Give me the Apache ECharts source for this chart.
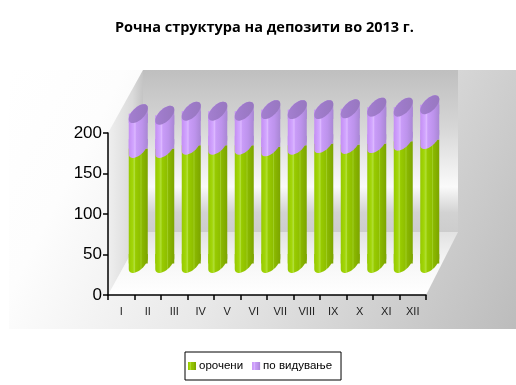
<!DOCTYPE html>
<html><head><meta charset="utf-8">
<script src="https://cdn.jsdelivr.net/npm/echarts@6/dist/echarts.min.js"></script>
<style>html,body{margin:0;padding:0;background:#fff}#c{width:516px;height:385px}</style>
</head><body><div id="c"></div>
<script>
const categories = ['I','II','III','IV','V','VI','VII','VIII','IX','X','XI','XII'];
const orocheni = [142,142,146,146,146,144,146,148,147,148,151,153];
const poVidyvanje = [43,41,42,42,42,46,44,42,44,45,42,43];
const yTicks = [0,50,100,150,200];
const seriesNames = ['орочени','по видување'];
const totals = orocheni.map((v,i)=>v+poVidyvanje[i]);

// cylinder cap shapes (sheared ellipse) – decoration only
const RX = 9.5, RY = 7.7, SH = 5.5, E = Math.sqrt(RY*RY+SH*SH);
function arc(t0,t1,n){const p=[];for(let i=0;i<=n;i++){const t=t0+(t1-t0)*i/n;
  p.push([(RX+RX*Math.cos(t)).toFixed(2),(E+RY*Math.sin(t)-SH*Math.cos(t)).toFixed(2)]);}return p;}
function toPath(p,extra){return 'path://M'+p.map(q=>q.join(',')).join(' L')+(extra||'')+' Z';}
const fullEll = toPath(arc(0,2*Math.PI,48));
const lowerShape = toPath(arc(0,Math.PI,24),' L0,0 L'+(2*RX)+',0');
const upperShape = toPath(arc(Math.PI,2*Math.PI,24),' L'+(2*RX)+','+(2*E).toFixed(2)+' L0,'+(2*E).toFixed(2));
const SYM = [2*RX, 2*E];

function hgrad(stops){return {type:'linear',x:0,y:0,x2:1,y2:0,colorStops:stops.map(s=>({offset:s[0],color:s[1]}))};}
const greenGrad = hgrad([[0,'#96c900'],[0.2,'#a2d608'],[0.3,'#b2df3a'],[0.36,'#98cb00'],[0.6,'#8fbf00'],[0.64,'#a0ce26'],[0.7,'#8ab800'],[1,'#7ca400']]);
const purpleGrad = hgrad([[0,'#c48ef4'],[0.25,'#d2a6ff'],[0.33,'#dcb8ff'],[0.4,'#c99cf8'],[0.7,'#bd93ec'],[1,'#a987d4']]);
const topGrad = hgrad([[0,'#a47fd0'],[0.5,'#9d7ac8'],[1,'#9878c0']]);

const chart = echarts.init(document.getElementById('c'), null, {renderer:'canvas'});
function capSeries(name,data,symbol,pos,color,z){
  return {name,type:'pictorialBar',xAxisIndex:1,yAxisIndex:1,data,symbol,symbolSize:SYM,
    symbolPosition:pos,symbolOffset:[0,pos==='start'?'50%':'-50%'],barWidth:19,barGap:'-100%',
    itemStyle:{color},z,silent:true};
}
chart.setOption({
  animation:false,
  title:{text:'Рочна структура на депозити во 2013 г.',left:110,top:15,
    textStyle:{fontFamily:'Open Sans',fontWeight:'bold',fontSize:14.5,color:'#000'}},
  graphic:[
    {type:'rect',shape:{x:9,y:70,width:507,height:259},z:-10,
      style:{fill:{type:'linear',x:0,y:0,x2:1,y2:1,colorStops:[{offset:0,color:'#ffffff'},{offset:0.18,color:'#fdfdfd'},{offset:0.5,color:'#e8e8e8'},{offset:1,color:'#bcbcbc'}]}}},
    {type:'rect',shape:{x:143,y:70,width:315,height:162},z:-9,
      style:{fill:{type:'linear',x:0,y:0,x2:0,y2:1,colorStops:[{offset:0,color:'#bfbfbf'},{offset:0.35,color:'#d6d6d6'},{offset:0.72,color:'#fafafa'},{offset:0.88,color:'#d2d2d2'},{offset:1,color:'#cdcdcd'}]}}},
    {type:'polygon',shape:{points:[[108,133],[143,70],[143,232],[108,295]]},z:-9,
      style:{fill:{type:'linear',x:0,y:0,x2:1,y2:0,colorStops:[{offset:0,color:'#efefef'},{offset:0.7,color:'#dadada'},{offset:1,color:'#c4c4c4'}]}}},
    {type:'polygon',shape:{points:[[108,295],[143,232],[458,232],[426,295]]},z:-9,
      style:{fill:{type:'linear',x:0,y:0,x2:0,y2:1,colorStops:[{offset:0,color:'#e2e2e2'},{offset:0.5,color:'#f7f7f7'},{offset:1,color:'#ffffff'}]}}}
  ],
  legend:{data:seriesNames,left:185,top:352,orient:'horizontal',icon:'rect',itemWidth:8,itemHeight:8,itemGap:9,
    borderColor:'#000',borderWidth:1,padding:[8,9,8,3],
    textStyle:{fontFamily:'Liberation Sans',fontSize:11.5,color:'#000',padding:[0,0,0,-2]}},
  grid:[
    {left:108,top:133,width:318,height:162},
    {left:125,top:101.5,width:318,height:162}
  ],
  xAxis:[
    {type:'category',gridIndex:0,data:categories,boundaryGap:true,
      axisLine:{lineStyle:{color:'#000',width:1.5}},axisTick:{show:true,length:5,lineStyle:{color:'#000',width:1.5}},
      axisLabel:{fontFamily:'Liberation Sans',fontSize:11,color:'#222',margin:11}},
    {type:'category',gridIndex:1,data:categories,show:false}
  ],
  yAxis:[
    {type:'value',gridIndex:0,min:0,max:200,interval:50,
      axisLine:{show:true,lineStyle:{color:'#000',width:1.5}},axisTick:{show:true,length:5,lineStyle:{color:'#000',width:1.5}},
      splitLine:{show:false},
      axisLabel:{fontFamily:'Liberation Sans',fontSize:17,color:'#000',margin:6,
        formatter:v=>yTicks.includes(v)?String(v):''}},
    {type:'value',gridIndex:1,min:0,max:200,show:false,splitLine:{show:false}}
  ],
  series:[
    capSeries('bottomCap',orocheni,lowerShape,'start',greenGrad,1),
    {name:seriesNames[0],type:'bar',xAxisIndex:1,yAxisIndex:1,stack:'a',data:orocheni,barWidth:19,
      itemStyle:{color:greenGrad},z:2},
    capSeries('midCap',orocheni,lowerShape,'end',purpleGrad,3),
    {name:seriesNames[1],type:'bar',xAxisIndex:1,yAxisIndex:1,stack:'a',data:poVidyvanje,barWidth:19,
      itemStyle:{color:purpleGrad},z:4},
    capSeries('topBody',totals,upperShape,'end',purpleGrad,5),
    capSeries('topCap',totals,fullEll,'end',topGrad,6)
  ]
});
</script></body></html>
